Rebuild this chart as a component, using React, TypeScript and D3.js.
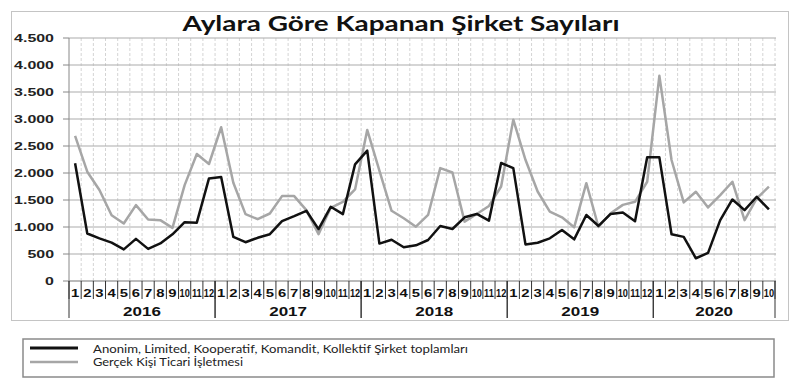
import React from "react";
import * as d3 from "d3";

const years = ["2016", "2017", "2018", "2019", "2020"];
const monthsPerYear = [12, 12, 12, 12, 10];

const corporate = [
  2180, 880, 790, 710, 585, 780, 595, 695, 865, 1090, 1080, 1900,
  1925, 817, 718, 800, 867, 1108, 1200, 1300, 960, 1374, 1238, 2160,
  2414, 693, 765, 625, 660, 759, 1019, 963, 1180, 1242, 1118, 2185,
  2090, 678, 709, 790, 944, 771, 1223, 1019, 1242, 1267, 1108, 2290,
  2290, 867, 817, 421, 520, 1127, 1510, 1312, 1560, 1325,
];

const individual = [
  2687, 2024, 1684, 1219, 1065, 1405, 1139, 1127, 984, 1776, 2352, 2167,
  2847, 1820, 1238, 1145, 1250, 1572, 1572, 1312, 867, 1356, 1467, 1696,
  2798, 2043, 1300, 1161, 1006, 1223, 2090, 2009, 1099, 1242, 1390, 1750,
  2988, 2245, 1657, 1285, 1180, 994, 1811, 1000, 1254, 1410, 1467, 1838,
  3800, 2241, 1455, 1653, 1362, 1591, 1838, 1127, 1529, 1746,
];

const yTicks = [0, 500, 1000, 1500, 2000, 2500, 3000, 3500, 4000, 4500];

const title = "Aylara Göre Kapanan Şirket Sayıları";
const legendLabels = [
  "Anonim, Limited, Kooperatif, Komandit, Kollektif  Şirket toplamları",
  "Gerçek Kişi Ticari İşletmesi",
];

const categories: { year: string; month: string }[] = years.flatMap((y, i) =>
  d3.range(1, monthsPerYear[i] + 1).map((m) => ({ year: y, month: String(m) }))
);

const fmt = d3
  .formatLocale({ decimal: ",", thousands: ".", grouping: [3], currency: ["", ""] })
  .format(",");

export default function App() {
  const x = d3
    .scaleBand<number>()
    .domain(d3.range(categories.length))
    .range([69, 775])
    .padding(0);
  const y = d3.scaleLinear().domain([0, 4500]).range([281, 38]);
  const bw = x.bandwidth();
  const cx = (i: number) => (x(i) as number) + bw / 2;

  const line = d3
    .line<number>()
    .x((_, i) => cx(i))
    .y((d) => y(d));

  const axisFont = "'Liberation Sans', Arial, sans-serif";
  const sx = 1.45;

  let acc = 0;
  const yearSpans = years.map((yr, i) => {
    const start = acc;
    acc += monthsPerYear[i];
    return { yr, start, end: acc };
  });
  const xAt = (k: number) => (k < categories.length ? (x(k) as number) : 775);

  return (
    <svg
      width={800}
      height={384}
      style={{ position: "absolute", left: 0, top: 0, background: "#fff" }}
    >
      <rect x={0} y={0} width={800} height={384} fill="#fff" />
      <rect x={11.5} y={11.5} width={777} height={309} fill="none" stroke="#c4c4c4" strokeWidth={1} />

      <text
        x={401}
        y={31}
        textAnchor="middle"
        fontFamily="Lato, 'Open Sans', sans-serif"
        fontWeight="bold"
        fontSize={20}
        textLength={437}
        lengthAdjust="spacingAndGlyphs"
        fill="#111"
      >
        {title}
      </text>

      {d3.range(1, categories.length + 1).map((k) => (
        <line
          key={"v" + k}
          x1={xAt(k)}
          x2={xAt(k)}
          y1={y(4500)}
          y2={y(0)}
          stroke="#d4d4d4"
          strokeWidth={1}
          strokeDasharray="3,2"
        />
      ))}

      {yTicks.map((t) => (
        <g key={"h" + t}>
          <line x1={69} x2={776} y1={y(t)} y2={y(t)} stroke={t === 0 ? "#777" : "#acacac"} strokeWidth={1.2} />
          <line x1={63} x2={69} y1={y(t)} y2={y(t)} stroke="#888" strokeWidth={1} />
          <text
            transform={`translate(54,${y(t) + 4}) scale(${sx},1)`}
            textAnchor="end"
            fontFamily={axisFont}
            fontWeight="bold"
            fontSize={11}
            fill="#222"
          >
            {fmt(t)}
          </text>
        </g>
      ))}
      <line x1={69} x2={69} y1={y(4500)} y2={y(0)} stroke="#888" strokeWidth={1} />

      {d3.range(0, categories.length + 1).map((k) => (
        <line key={"mt" + k} x1={xAt(k)} x2={xAt(k)} y1={y(0)} y2={299} stroke="#333" strokeWidth={1} />
      ))}
      {categories.map((c, i) => {
        const two = c.month.length > 1;
        return (
          <text
            key={"ml" + i}
            transform={`translate(${cx(i)},297) scale(${two ? 0.88 : 1.35},1)`}
            textAnchor="middle"
            fontFamily={axisFont}
            fontWeight="bold"
            fontSize={two ? 10.5 : 11}
            fill="#111"
          >
            {c.month}
          </text>
        );
      })}
      {yearSpans.map((s) => (
        <g key={s.yr}>
          <line x1={xAt(s.start)} x2={xAt(s.start)} y1={y(0)} y2={318} stroke="#333" strokeWidth={1} />
          <line x1={xAt(s.end)} x2={xAt(s.end)} y1={y(0)} y2={318} stroke="#333" strokeWidth={1} />
          <text
            transform={`translate(${(xAt(s.start) + xAt(s.end)) / 2},316) scale(1.42,1)`}
            textAnchor="middle"
            fontFamily={axisFont}
            fontWeight="bold"
            fontSize={12}
            fill="#111"
          >
            {s.yr}
          </text>
        </g>
      ))}

      <path d={line(individual) || ""} fill="none" stroke="#a6a6a6" strokeWidth={2.5} strokeLinejoin="round" />
      <path d={line(corporate) || ""} fill="none" stroke="#111" strokeWidth={2.5} strokeLinejoin="round" />

      <rect x={23} y={339} width={751} height={38} fill="#fff" stroke="#8a8a8a" strokeWidth={1.5} />
      <line x1={30} x2={78} y1={348} y2={348} stroke="#111" strokeWidth={3} />
      <line x1={30} x2={78} y1={362} y2={362} stroke="#a6a6a6" strokeWidth={2.5} />
      <text
        x={93}
        y={353}
        fontFamily="Lato, 'Open Sans', sans-serif"
        fontSize={10.5}
        textLength={375}
        lengthAdjust="spacingAndGlyphs"
        fill="#222"
      >
        {legendLabels[0]}
      </text>
      <text
        x={93}
        y={366}
        fontFamily="Lato, 'Open Sans', sans-serif"
        fontSize={10.5}
        textLength={150}
        lengthAdjust="spacingAndGlyphs"
        fill="#222"
      >
        {legendLabels[1]}
      </text>
    </svg>
  );
}
